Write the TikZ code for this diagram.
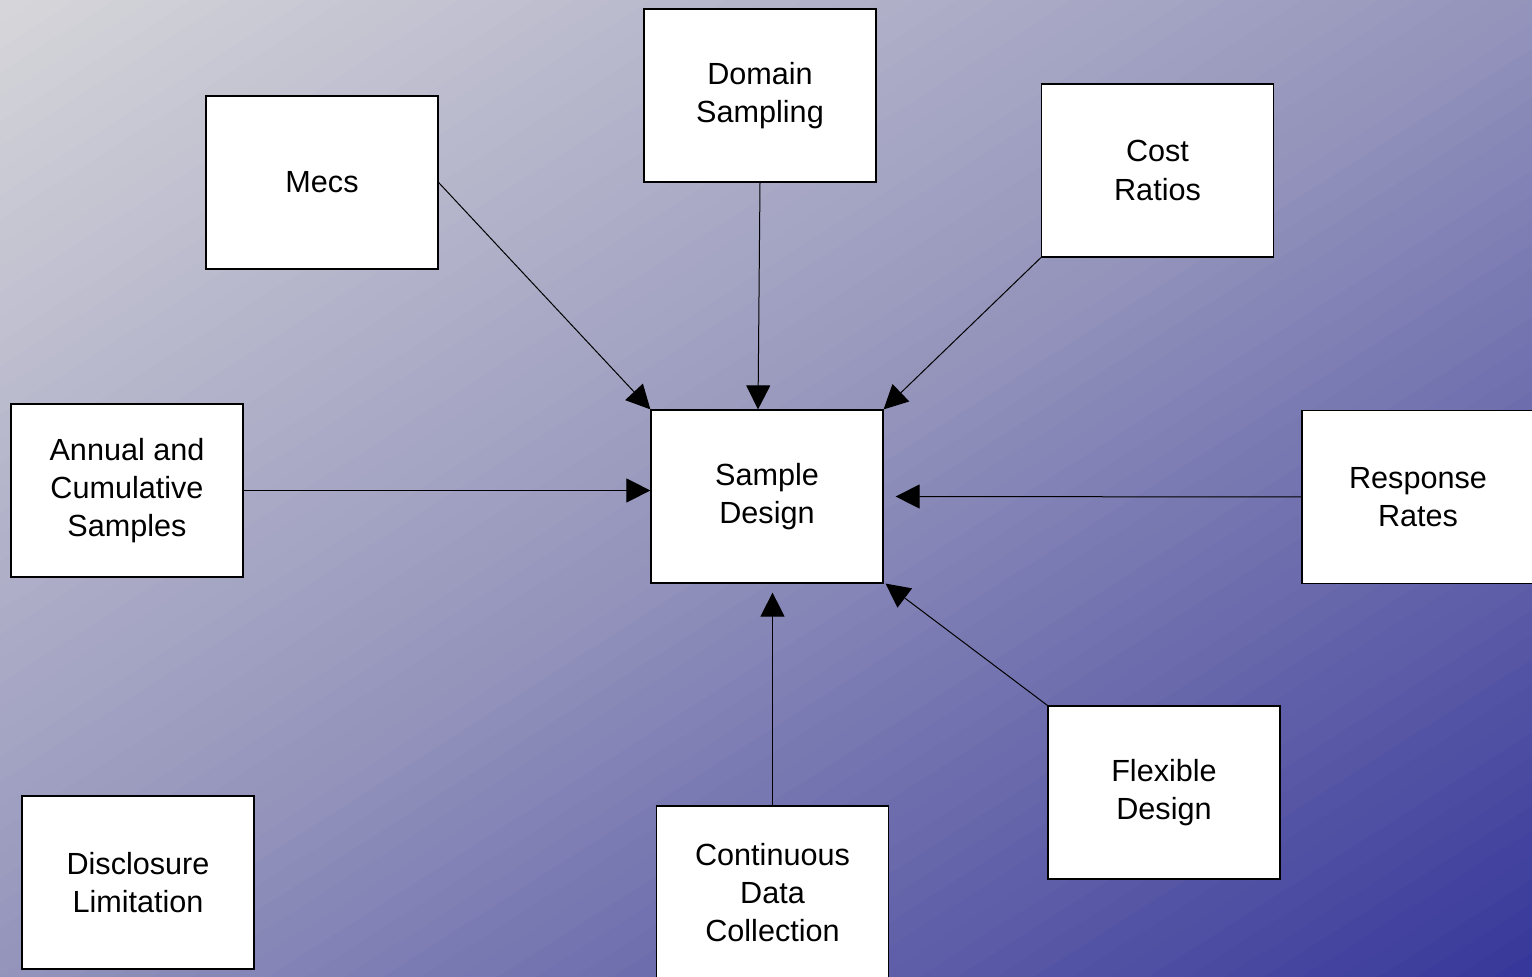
\documentclass[tikz,border=0pt]{standalone}
\usepackage{fontspec}
\setmainfont{Liberation Sans}
\usetikzlibrary{arrows.meta}
\definecolor{bglight}{RGB}{214,214,218}
\definecolor{bgmid}{RGB}{148,148,188}
\definecolor{bgdark}{RGB}{54,54,154}
\begin{document}
\begin{tikzpicture}[x=0.5pt,y=-0.5pt,
  box/.style={draw=black,line width=0.6pt,fill=white,minimum width=116pt,minimum height=86.5pt,
    align=center,inner sep=0pt,font=\fontsize{15.3}{19.2}\selectfont},
  conn/.style={line width=0.5pt,-{Triangle[length=12pt,width=12pt]}}]
\useasboundingbox (0,0) rectangle (1532,977);
\begin{scope}
\clip (0,0) rectangle (1532,977);
\foreach \i in {0,...,79} {
  \pgfmathsetmacro\sa{\i/40}
  \pgfmathsetmacro\sb{(\i+1.4)/40}
  \ifnum\i<40
    \pgfmathsetmacro\pp{(\i+0.5)/40*100}
    \colorlet{stripc}{bgmid!\pp!bglight}
  \else
    \pgfmathsetmacro\pp{(\i-40+0.5)/40*100}
    \colorlet{stripc}{bgdark!\pp!bgmid}
  \fi
  \fill[stripc] ({(\sa+1)*1532},-977) -- (-1532,{(\sa+1)*977}) -- (-1532,{(\sb+1)*977}) -- ({(\sb+1)*1532},-977) -- cycle;
}
\end{scope}
\node[box] (mecs) at (322,182.5) {Mecs};
\node[box] (dom) at (760,95.5) {Domain\\Sampling};
\node[box] (cost) at (1157.5,170.5) {Cost\\Ratios};
\node[box] (ann) at (127,490.5) {Annual and\\Cumulative\\Samples};
\node[box] (sd) at (767,496.5) {Sample\\Design};
\node[box] (resp) at (1418,497) {Response\\Rates};
\node[box] (flex) at (1164,792.5) {Flexible\\Design};
\node[box] (cont) at (772.5,892.5) {Continuous\\Data\\Collection};
\node[box] (disc) at (138,882.5) {Disclosure\\Limitation};
\draw[conn] (mecs.east) -- (sd.north west);
\draw[conn] (dom.south) -- ([xshift=-4.5pt]sd.north);
\draw[conn] (cost.south west) -- (sd.north east);
\draw[conn] (ann.east) -- ([yshift=3pt]sd.west);
\draw[conn] (resp.west) -- ([xshift=6pt]sd.east);
\draw[conn] (flex.north west) -- ([xshift=1pt]sd.south east);
\draw[conn] (cont.north) -- ([yshift=-4.5pt]cont.north |- sd.south);
\end{tikzpicture}
\end{document}
